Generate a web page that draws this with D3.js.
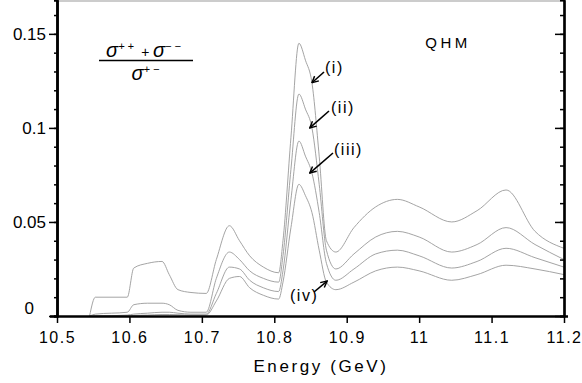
<!DOCTYPE html>
<html><head><meta charset="utf-8">
<script src="https://cdn.jsdelivr.net/npm/d3@7"></script>
<style>
body{margin:0;background:#fff;}
svg{display:block;font-family:"Liberation Sans",Arial,sans-serif;}
</style></head>
<body><svg id="c" width="582" height="383"></svg>
<script>
const energies = [10.545,10.553,10.597,10.606,10.625,10.645,10.655,10.667,10.685,10.706,10.72,10.738,10.752,10.766,10.785,10.806,10.812,10.823,10.834,10.843,10.852,10.862,10.872,10.885,10.91,10.94,10.97,11.0,11.045,11.08,11.12,11.16,11.2];
const seriesI   = [0,0.01,0.01,0.0255,0.028,0.029,0.022,0.014,0.0125,0.012,0.03,0.048,0.04,0.032,0.026,0.023,0.04,0.095,0.145,0.136,0.124,0.085,0.04,0.034,0.047,0.058,0.062,0.058,0.05,0.056,0.067,0.045,0.036];
const seriesII  = [0,0.001,0.002,0.006,0.0068,0.0068,0.006,0.003,0.002,0.002,0.02,0.034,0.03,0.024,0.02,0.018,0.032,0.078,0.118,0.11,0.1,0.07,0.035,0.025,0.033,0.042,0.045,0.042,0.034,0.038,0.047,0.038,0.03];
const seriesIII = [0,0,0.0005,0.001,0.0015,0.002,0.002,0.0015,0.001,0.001,0.012,0.026,0.025,0.019,0.015,0.013,0.024,0.062,0.093,0.085,0.076,0.055,0.028,0.019,0.025,0.033,0.035,0.032,0.0255,0.029,0.036,0.031,0.026];
const seriesIV  = [0,0,0,0.0003,0.0005,0.0008,0.0008,0.0007,0.0005,0.0005,0.008,0.02,0.021,0.015,0.011,0.009,0.018,0.047,0.07,0.064,0.055,0.035,0.018,0.014,0.018,0.024,0.026,0.024,0.019,0.022,0.027,0.025,0.022];
const seriesNames = ["(i)","(ii)","(iii)","(iv)"];
const xTicks = [10.5,10.6,10.7,10.8,10.9,11,11.1,11.2];
const xTickLabels = ["10.5","10.6","10.7","10.8","10.9","11","11.1","11.2"];
const yTicks = [0,0.05,0.1,0.15];
const yTickLabels = ["0","0.05","0.1","0.15"];
const yMinor = d3.range(1,17).map(i=>i/100);

const svg = d3.select("#c");
const x = d3.scaleLinear().domain([10.5,11.2]).range([57,564]);
const y = d3.scaleLinear().domain([0,0.168]).range([316,0]);

// top border
svg.append("line").attr("x1",57).attr("x2",564).attr("y1",1).attr("y2",1)
  .attr("stroke","#999").attr("stroke-width",1.2);

// curves
const line = d3.line().x((d,i)=>x(energies[i])).y(d=>y(d)).curve(d3.curveMonotoneX);
[seriesI,seriesII,seriesIII,seriesIV].forEach(s=>{
  svg.append("path").datum(s).attr("d",line).attr("fill","none")
    .attr("stroke","#9a9a9a").attr("stroke-width",0.9);
});

function styleAxis(g,w){
  g.select(".domain").attr("stroke","#000").attr("stroke-width",w);
  g.selectAll(".tick line").attr("stroke","#000").attr("stroke-width",1.5);
}
// left axis minor
const gLm = svg.append("g").attr("transform","translate(57,0)")
  .call(d3.axisLeft(y).tickValues(yMinor).tickSize(3).tickFormat(""));
styleAxis(gLm,2.5);
const gL = svg.append("g").attr("transform","translate(57,0)")
  .call(d3.axisLeft(y).tickValues(yTicks).tickSize(8).tickSizeOuter(0).tickFormat((d,i)=>yTickLabels[i]));
styleAxis(gL,2.5);
gL.selectAll(".tick text").attr("font-size",17).attr("fill","#000")
  .attr("x",d=>d===0?-23:-11)
  .attr("dy",d=>d===0?"-0.15em":"0.32em");
// right axis (ticks inward)
const gRm = svg.append("g").attr("transform","translate(564,0)")
  .call(d3.axisLeft(y).tickValues(yMinor).tickSize(4).tickFormat(""));
styleAxis(gRm,2.2);
const gR = svg.append("g").attr("transform","translate(564,0)")
  .call(d3.axisLeft(y).tickValues(yTicks).tickSize(9).tickSizeOuter(0).tickFormat(""));
styleAxis(gR,2.2);
// bottom axis
const gB = svg.append("g").attr("transform","translate(0,316)")
  .call(d3.axisBottom(x).tickValues(xTicks).tickSize(7).tickSizeOuter(0).tickFormat((d,i)=>xTickLabels[i]));
styleAxis(gB,2.5);
gB.select(".domain").attr("d","M50,0.5H568");
gB.selectAll(".tick text").attr("font-size",16).attr("fill","#000").attr("y",16)
  .attr("letter-spacing","1.5px");

// axis title
svg.append("text").attr("x",321).attr("y",372).attr("text-anchor","middle")
  .attr("font-size",17).attr("letter-spacing","2.6px").text("Energy (GeV)");

// QHM
svg.append("text").attr("x",448).attr("y",48).attr("text-anchor","middle")
  .attr("font-size",15).attr("letter-spacing","3.5px").text("QHM");

// fraction
const num = svg.append("text").attr("x",145).attr("y",57).attr("text-anchor","middle")
  .attr("font-size",20).attr("font-style","italic");
num.append("tspan").text("σ");
num.append("tspan").attr("font-size",11).attr("dy",-7).attr("letter-spacing","3px").text("++");
num.append("tspan").attr("dy",7).attr("font-size",14).text(" + ");
num.append("tspan").text("σ");
num.append("tspan").attr("font-size",11).attr("dy",-7).attr("letter-spacing","3px").text("−−");
svg.append("line").attr("x1",99).attr("x2",193).attr("y1",60.5).attr("y2",60.5)
  .attr("stroke","#000").attr("stroke-width",1.6);
const den = svg.append("text").attr("x",147).attr("y",80).attr("text-anchor","middle")
  .attr("font-size",20).attr("font-style","italic");
den.append("tspan").text("σ");
den.append("tspan").attr("font-size",11).attr("dy",-7).attr("letter-spacing","3px").text("+−");

// annotations
svg.append("defs").append("marker").attr("id","ah").attr("viewBox","0 0 10 10")
  .attr("refX",9).attr("refY",5).attr("markerWidth",8).attr("markerHeight",8)
  .attr("orient","auto").attr("markerUnits","userSpaceOnUse")
  .append("path").attr("d","M1,1L9,5L1,9").attr("fill","none").attr("stroke","#000").attr("stroke-width",1.8);
const labelPos = [[325,73],[331,113],[334,155],[290,301]];
const arrowFrom = [[324,72],[329,111],[333,153],[314,292]];
const arrowTo = [[10.852,seriesI[20]],[10.849,0.1],[10.849,0.076],[10.873,0.0186]];
seriesNames.forEach((n,i)=>{
  svg.append("text").attr("x",labelPos[i][0]).attr("y",labelPos[i][1])
    .attr("font-size",16).attr("letter-spacing","1.5px").text(n);
  svg.append("line").attr("x1",arrowFrom[i][0]).attr("y1",arrowFrom[i][1])
    .attr("x2",x(arrowTo[i][0])).attr("y2",y(arrowTo[i][1]))
    .attr("stroke","#000").attr("stroke-width",1.6).attr("marker-end","url(#ah)");
});
</script></body></html>
